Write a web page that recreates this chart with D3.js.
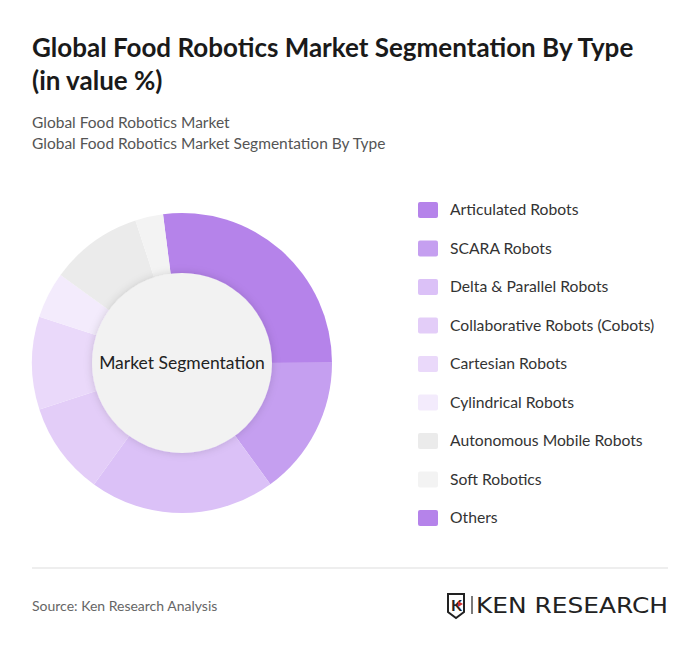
<!DOCTYPE html>
<html><head><meta charset="utf-8">
<script src="https://cdn.jsdelivr.net/npm/d3@7"></script>
<style>body{margin:0;background:#fff;font-family:Lato,"Open Sans",sans-serif}</style>
</head><body><svg id="chart"></svg>
<script>
const categories = ["Articulated Robots","SCARA Robots","Delta & Parallel Robots","Collaborative Robots (Cobots)","Cartesian Robots","Cylindrical Robots","Autonomous Mobile Robots","Soft Robotics","Others"];
const values = [27,15,20,10,10,5,10,3,0];
const colors = ["#b583ea","#c59ff0","#dbc1f7","#e3cdf8","#ead9fa","#f3ebfc","#ebebeb","#f3f3f3","#b583ea"];

const w = 700, h = 653;
const svg = d3.select("#chart").attr("width", w).attr("height", h);

svg.append("text").attr("x",32).attr("y",57).attr("font-size",26).attr("font-weight",700).attr("fill","#1a1a1a").text("Global Food Robotics Market Segmentation By Type");
svg.append("text").attr("x",32).attr("y",90).attr("font-size",26).attr("font-weight",700).attr("fill","#1a1a1a").text("(in value %)");
svg.append("text").attr("x",32).attr("y",128).attr("font-size",15.5).attr("fill","#555").text("Global Food Robotics Market");
svg.append("text").attr("x",32).attr("y",149).attr("font-size",15.5).attr("fill","#555").text("Global Food Robotics Market Segmentation By Type");

const defs = svg.append("defs");
const f = defs.append("filter").attr("id","sh").attr("x","-20%").attr("y","-20%").attr("width","140%").attr("height","140%");
f.append("feDropShadow").attr("dx",0).attr("dy",0).attr("stdDeviation",4).attr("flood-color","#000").attr("flood-opacity",0.15);

const g = svg.append("g").attr("transform","translate(182,363)");
const pie = d3.pie().sort(null).startAngle(-0.127).endAngle(2*Math.PI-0.127);
const arc = d3.arc().innerRadius(0).outerRadius(150);
g.selectAll("path").data(pie(values)).enter().append("path")
  .attr("d", arc).attr("fill", (d,i) => colors[i]);
g.append("circle").attr("r",90).attr("fill","#f2f2f2").attr("filter","url(#sh)");
g.append("text").attr("text-anchor","middle").attr("y",6).attr("font-size",17.5).attr("fill","#222").text("Market Segmentation");

const lg = svg.append("g");
const item = lg.selectAll("g").data(categories).enter().append("g")
  .attr("transform",(d,i)=>"translate(418,"+(202+i*38.5)+")");
item.append("rect").attr("width",20).attr("height",16).attr("rx",2).attr("fill",(d,i)=>colors[i]);
item.append("text").attr("x",32).attr("y",13).attr("font-size",15.7).attr("fill","#333").text(d=>d);

svg.append("line").attr("x1",32).attr("x2",668).attr("y1",568).attr("y2",568).attr("stroke","#ddd");
svg.append("text").attr("x",32).attr("y",611).attr("font-size",14).attr("fill","#666").text("Source: Ken Research Analysis");

const logo = svg.append("g").attr("transform","translate(448,594)");
logo.append("path").attr("d","M0,0 H16 V18 L8,24 L0,18 Z").attr("fill","none").attr("stroke","#222").attr("stroke-width",2);
logo.append("text").attr("x",3).attr("y",17).attr("font-size",16).attr("font-weight",700).attr("fill","#222").text("K");
logo.append("path").attr("d","M10,7 L15,10 L10,13 Z").attr("fill","#d32f2f");
logo.append("line").attr("x1",24).attr("x2",24).attr("y1",2).attr("y2",20).attr("stroke","#222").attr("stroke-width",1.2);
logo.append("text").attr("x",28).attr("y",19).attr("font-size",22).attr("font-family","'DejaVu Sans', sans-serif").attr("fill","#222").attr("textLength",192).attr("lengthAdjust","spacingAndGlyphs").text("KEN RESEARCH");
</script></body></html>
